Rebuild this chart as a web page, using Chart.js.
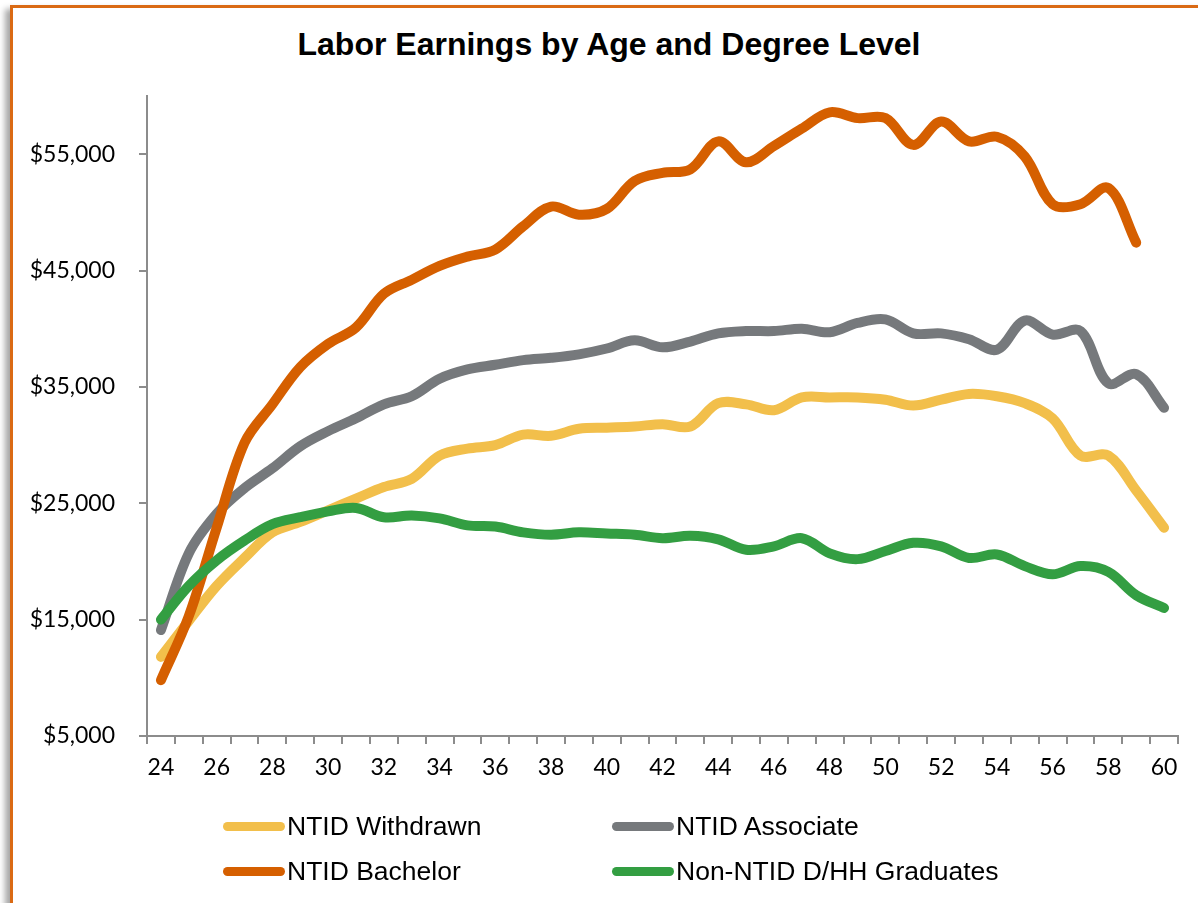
<!DOCTYPE html>
<html>
<head>
<meta charset="utf-8">
<script src="https://cdn.jsdelivr.net/npm/chart.js@4.4.1/dist/chart.umd.min.js"></script>
<style>
  html, body { margin: 0; padding: 0; background: #fff; }
  body { width: 1198px; height: 903px; overflow: hidden; position: relative; }
  #frame {
    position: absolute; left: 10px; top: 5px; width: 1300px; height: 1000px;
    border-top: 3px solid #DA6A14; border-left: 3px solid #DA6A14;
    background: #fff; box-shadow: -5px 4px 6px rgba(0,0,0,0.35);
  }
  #title {
    position: absolute; left: 0; top: 28px; width: 1218px; text-align: center;
    font: bold 32px "Liberation Sans", Arial, sans-serif; line-height: 32px; color: #000;
  }
  #chartBox { position: absolute; left: 0; top: 0; width: 1198px; height: 903px; }
  .item {
    position: absolute; height: 30px; display: flex; align-items: center;
    font: 26.5px "Liberation Sans", Arial, sans-serif; line-height: 30px; color: #000;
    white-space: nowrap;
  }
  .item span.sw { display: inline-block; width: 62px; height: 9px; border-radius: 5px; margin-right: 2px; }
</style>
</head>
<body>
<div id="frame"></div>
<div id="title">Labor Earnings by Age and Degree Level</div>
<div id="chartBox"><canvas id="earningsChart"></canvas></div>
<div id="legend"></div>

<script>
// tranches d'age (axe x)
const ages = [24, 25, 26, 27, 28, 29, 30, 31, 32, 33, 34, 35, 36, 37, 38, 39, 40, 41, 42,
              43, 44, 45, 46, 47, 48, 49, 50, 51, 52, 53, 54, 55, 56, 57, 58, 59, 60];

const withdrawn = [11800, 14900, 17900, 20300, 22500, 23400, 24400, 25400, 26400, 27100,
                   29100, 29700, 30000, 30900, 30800, 31400, 31500, 31600, 31800, 31600,
                   33600, 33500, 33000, 34100, 34100, 34100, 33900, 33400, 33900, 34400,
                   34200, 33600, 32300, 29100, 29100, 26100, 22900];

const associate = [14100, 20700, 24100, 26300, 28000, 29900, 31200, 32300, 33500, 34200,
                   35700, 36500, 36900, 37300, 37500, 37800, 38300, 39000, 38400, 38900,
                   39600, 39800, 39800, 40000, 39700, 40500, 40800, 39600, 39600, 39100,
                   38200, 40700, 39500, 39800, 35300, 36100, 33200];

const bachelor = [9800, 15300, 22900, 30200, 33500, 36700, 38700, 40100, 43000, 44200,
                  45400, 46200, 46800, 48800, 50500, 49800, 50300, 52700, 53400, 53700,
                  56100, 54300, 55700, 57200, 58600, 58100, 58100, 55800, 57800, 56100,
                  56500, 54800, 50700, 50700, 52100, 47400, null];

const nonNtid = [15000, 17900, 20100, 21800, 23200, 23800, 24300, 24600, 23800, 23950,
                 23700, 23100, 23000, 22500, 22300, 22500, 22400, 22300, 22000, 22200,
                 21900, 21000, 21300, 22000, 20700, 20200, 20900, 21600, 21300, 20300,
                 20600, 19600, 18900, 19600, 19100, 17100, 16000];

const yTicks = [5000, 15000, 25000, 35000, 45000, 55000];

const series = [
    { label: 'NTID Withdrawn', data: withdrawn, color: '#F2BF4B', order: 4 },
    { label: 'NTID Associate', data: associate, color: '#76797C', order: 3 },
    { label: 'NTID Bachelor', data: bachelor, color: '#D55F00', order: 2 },
    { label: 'Non-NTID D/HH Graduates', data: nonNtid, color: '#339E42', order: 1 },
];

const axisGrey = '#8C8C8C';
const tickFont = { family: 'Lato', size: 23 };

let ctx = document.getElementById('earningsChart').getContext('2d');
let earningsChart = new Chart(ctx, {
    type: 'line',
    data: {
        labels: ages,
        datasets: series.map(s => ({
            label: s.label,
            data: s.data,
            borderColor: s.color,
            backgroundColor: s.color,
            borderWidth: 10,
            borderCapStyle: 'round',
            borderJoinStyle: 'round',
            tension: 0.35,
            pointRadius: 0,
            fill: false,
            order: s.order,
        }))
    },
    options: {
        responsive: true,
        maintainAspectRatio: false,
        animation: false,
        layout: { padding: { top: 96, right: 20, bottom: 107, left: 0 } },
        scales: {
            x: {
                offset: true,
                grid: { display: true, drawOnChartArea: false, offset: true, color: axisGrey, lineWidth: 2, tickLength: 8 },
                border: { display: true, color: axisGrey, width: 2 },
                ticks: {
                    autoSkip: false,
                    maxRotation: 0,
                    padding: 10,
                    color: '#000',
                    font: tickFont,
                    callback: (val, i) => (ages[i] % 2 === 0 ? String(ages[i]) : '')
                },
                afterFit: scale => { scale.height = 60; }
            },
            y: {
                min: 5000,
                max: 60000,
                grid: { display: true, drawOnChartArea: false, color: axisGrey, lineWidth: 2, tickLength: 8 },
                border: { display: true, color: axisGrey, width: 2 },
                ticks: {
                    padding: 24,
                    color: '#000',
                    font: tickFont,
                    callback: v => '$' + v.toLocaleString('en-US')
                },
                afterBuildTicks: scale => { scale.ticks = yTicks.map(v => ({ value: v })); },
                afterFit: scale => { scale.width = 147; }
            }
        },
        plugins: {
            legend: { display: false },
            title: { display: false },
            tooltip: { enabled: false }
        }
    }
});

// legende en 2 colonnes, comme dans l'original
const legendPos = [[223, 811], [612, 811], [223, 856], [612, 856]];
let legend = document.getElementById('legend');
series.forEach((s, i) => {
    let div = document.createElement('div');
    div.className = 'item';
    div.style.left = legendPos[i][0] + 'px';
    div.style.top = legendPos[i][1] + 'px';
    div.innerHTML = '<span class="sw" style="background:' + s.color + '"></span>' + s.label;
    legend.appendChild(div);
});
</script>
</body>
</html>
